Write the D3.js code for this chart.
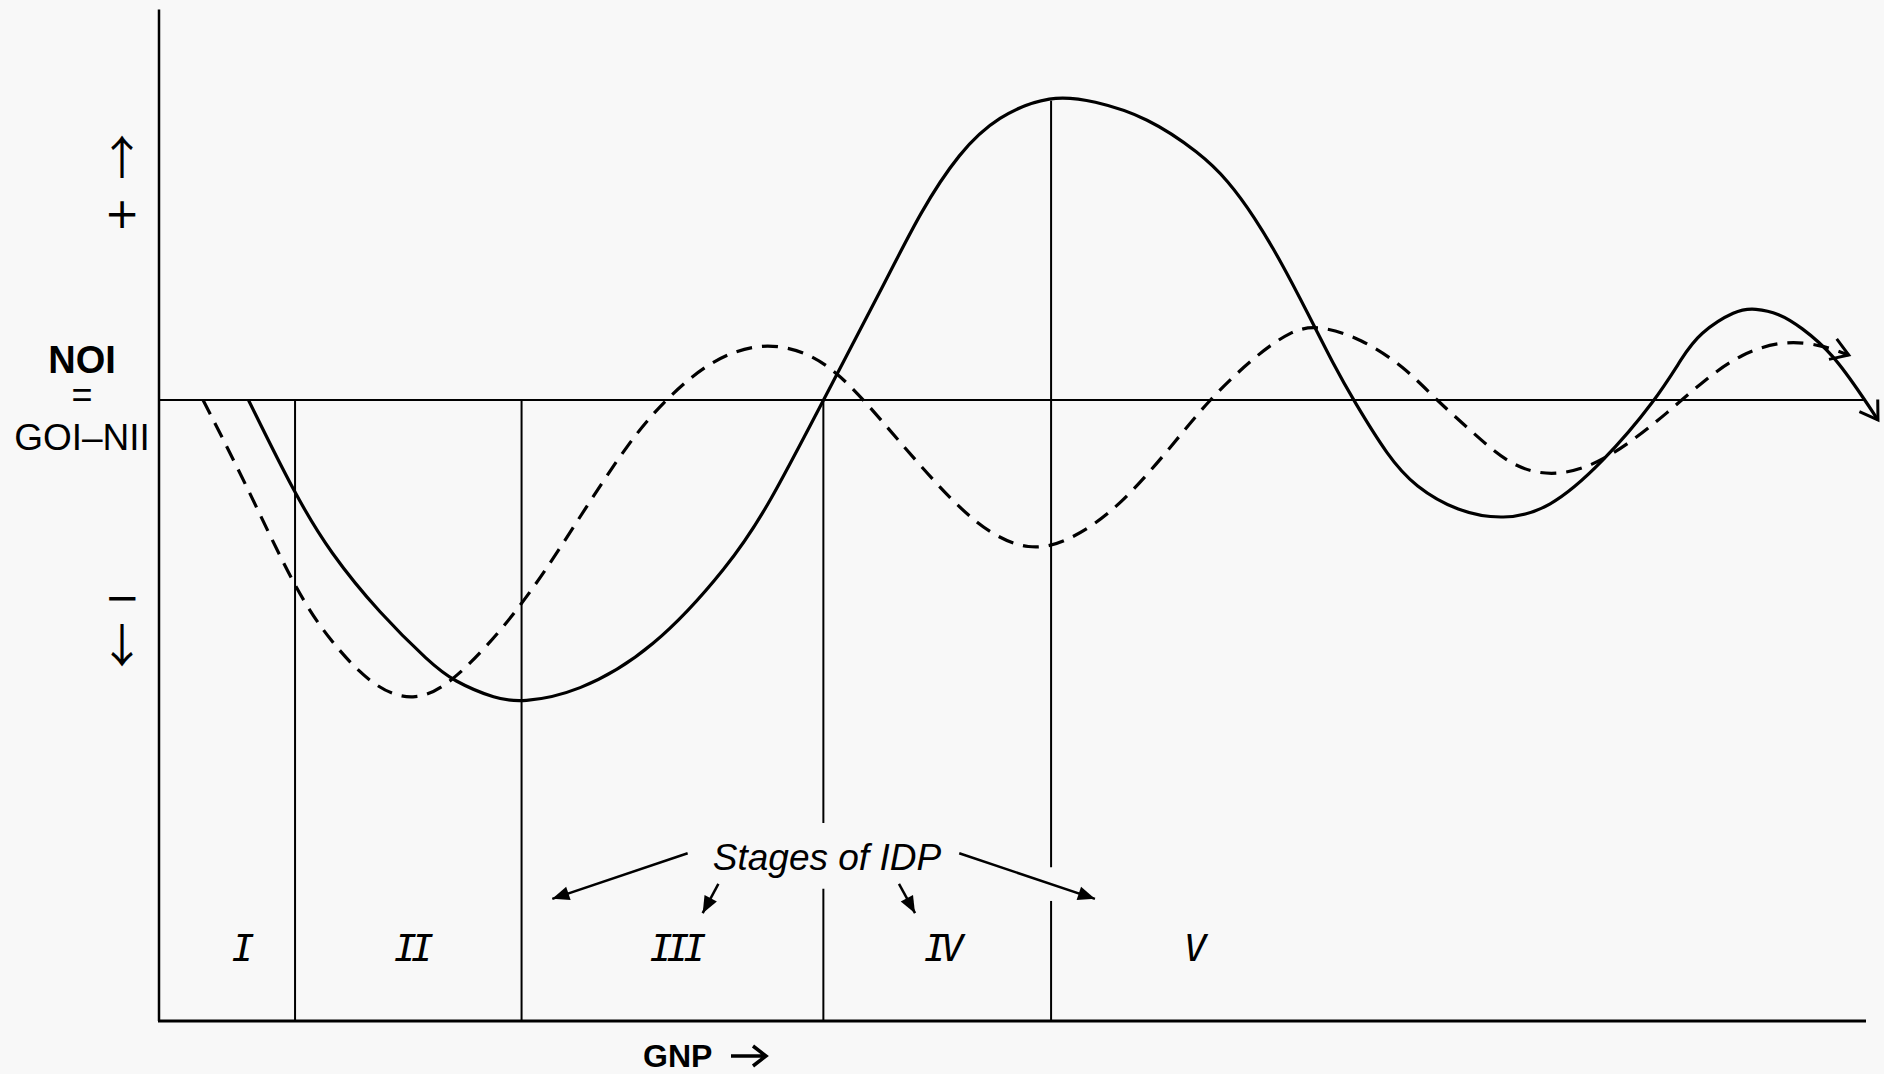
<!DOCTYPE html>
<html>
<head>
<meta charset="utf-8">
<script src="https://cdn.jsdelivr.net/npm/d3@7"></script>
<style>
  body { margin: 0; background: #f8f8f8; }
  svg { display: block; }
</style>
</head>
<body>
<script>
(function () {
    "use strict";

// curve data, GNP on x (0-100), NOI on y (peak = 1)
var gnpSolid = [5.24, 7.97, 10.02, 12.95, 15.88, 17.22, 19.78, 21.24, 24.46, 28.94, 33.43, 35.68, 38.92,
        42.40, 44.64, 46.87, 49.12, 52.26, 54.75, 57.88, 61.02, 62.60, 64.17, 65.73, 67.30, 68.87,
        69.97, 72.01, 73.58, 76.09, 78.75, 81.42, 84.56, 87.70, 89.26, 90.21, 92.40, 93.50, 94.90,
        96.17, 98.05, 99.93, 100.70],
    noiSolid = [0, -0.31, -0.50, -0.70, -0.86, -0.92, -0.98, -0.99, -0.96, -0.82, -0.54, -0.35, 0,
        0.37, 0.62, 0.81, 0.93, 1.0, 0.98, 0.927, 0.807, 0.72, 0.60, 0.453, 0.284, 0.109,
        0, -0.186, -0.284, -0.366, -0.393, -0.36, -0.207, 0, 0.142, 0.218, 0.296, 0.30, 0.284,
        0.24, 0.153, 0, -0.065];

var gnpDashed = [2.58, 5.14, 7.97, 10.02, 12.54, 14.88, 17.22, 21.25, 24.46, 27.59, 29.82, 32.31, 35.21,
        37.90, 39.72, 41.48, 44.64, 47.98, 51.02, 53.49, 56.30, 59.46, 61.49, 64.17, 66.36, 67.93,
        70.44, 72.95, 74.83, 77.02, 79.22, 81.58, 83.94, 86.13, 88.33, 90.52, 92.71, 95.22, 97.42, 98.99],
    noiDashed = [0, -0.28, -0.62, -0.79, -0.94, -0.99, -0.93, -0.68, -0.40, -0.13, 0.01, 0.13, 0.19,
        0.16, 0.09, -0.01, -0.22, -0.42, -0.50, -0.458, -0.349, -0.142, 0, 0.142, 0.229, 0.245,
        0.201, 0.109, 0, -0.109, -0.218, -0.251, -0.218, -0.142, -0.044, 0.065, 0.153, 0.196, 0.18, 0.147];

// stages of IDP
var stageNames = ["I", "II", "III", "IV", "V"],
    stageLabelX = [4.75, 14.76, 30.23, 45.81, 60.52],
    stageBounds = [7.97, 21.24, 38.92, 52.26],
    stageTops = [0, 0, 0, 0.98],
    stageGaps = [null, null, [-1.385, -1.60], [-1.53, -1.64]];

// arrows out of the "Stages of IDP" note: [x0, y0, x1, y1]
var idpArrows = [
    [30.97, -1.484, 23.04, -1.633],
    [32.77, -1.584, 31.85, -1.680],
    [43.35, -1.584, 44.29, -1.680],
    [46.88, -1.484, 54.83, -1.633]
];

var width = 1884,
    height = 1074,
    yMin = -2.033,
    yMax = 1.278,
    ink = "#000",
    sans = "'Liberation Sans', Arial, sans-serif";

var x = d3.scaleLinear().domain([0, 100]).range([159, 1866]);
var y = d3.scaleLinear().domain([yMin, yMax]).range([1021, 9.6]);

var svg = d3.select("body").append("svg")
    .attr("width", width)
    .attr("height", height);

svg.append("rect")
    .attr("width", width)
    .attr("height", height)
    .attr("fill", "#f8f8f8");

var defs = svg.append("defs");

defs.append("marker")
    .attr("id", "openHead")
    .attr("markerUnits", "userSpaceOnUse")
    .attr("viewBox", "-24 -14 28 28")
    .attr("markerWidth", 28)
    .attr("markerHeight", 28)
    .attr("refX", 0)
    .attr("refY", 0)
    .attr("orient", "auto")
  .append("path")
    .attr("d", "M-17,-11L0,0L-17,11")
    .attr("fill", "none")
    .attr("stroke", ink)
    .attr("stroke-width", 3);

defs.append("marker")
    .attr("id", "solidHead")
    .attr("markerUnits", "userSpaceOnUse")
    .attr("viewBox", "-20 -10 22 20")
    .attr("markerWidth", 22)
    .attr("markerHeight", 20)
    .attr("refX", 0)
    .attr("refY", 0)
    .attr("orient", "auto")
  .append("path")
    .attr("d", "M-17,-7L0,0L-17,7Z")
    .attr("fill", ink);

// axes
svg.append("line")
    .attr("x1", x(0)).attr("x2", x(0))
    .attr("y1", y(yMax)).attr("y2", y(yMin))
    .attr("stroke", ink)
    .attr("stroke-width", 2.5);

svg.append("line")
    .attr("x1", x(0) - 1).attr("x2", x(100))
    .attr("y1", y(yMin)).attr("y2", y(yMin))
    .attr("stroke", ink)
    .attr("stroke-width", 3);

svg.append("line")
    .attr("x1", x(0)).attr("x2", x(100))
    .attr("y1", y(0)).attr("y2", y(0))
    .attr("stroke", ink)
    .attr("stroke-width", 2);

// stage dividers
var segs = [];
stageBounds.forEach(function (b, i) {
    var g = stageGaps[i];
    if (g) {
        segs.push([b, stageTops[i], g[0]]);
        segs.push([b, g[1], yMin]);
    } else {
        segs.push([b, stageTops[i], yMin]);
    }
});

svg.selectAll(".stageLine")
    .data(segs)
  .enter().append("line")
    .attr("class", "stageLine")
    .attr("x1", function (d) { return x(d[0]); })
    .attr("x2", function (d) { return x(d[0]); })
    .attr("y1", function (d) { return y(d[1]); })
    .attr("y2", function (d) { return y(d[2]); })
    .attr("stroke", ink)
    .attr("stroke-width", 2);

// curves
var line = d3.line()
    .x(function (d) { return x(d[0]); })
    .y(function (d) { return y(d[1]); })
    .curve(d3.curveBasis);

svg.append("path")
    .attr("d", line(d3.zip(gnpDashed, noiDashed)))
    .attr("fill", "none")
    .attr("stroke", ink)
    .attr("stroke-width", 3.2)
    .attr("stroke-dasharray", "16,10")
    .attr("marker-end", "url(#openHead)");

svg.append("path")
    .attr("d", line(d3.zip(gnpSolid, noiSolid)))
    .attr("fill", "none")
    .attr("stroke", ink)
    .attr("stroke-width", 3.2)
    .attr("marker-end", "url(#openHead)");

// stage labels
svg.selectAll(".stageName")
    .data(stageNames)
  .enter().append("text")
    .attr("class", "stageName")
    .attr("x", function (d, i) { return x(stageLabelX[i]); })
    .attr("y", y(-1.836))
    .attr("text-anchor", "middle")
    .attr("font-family", "'DejaVu Sans Mono', monospace")
    .attr("font-style", "italic")
    .attr("font-size", 38)
    .attr("letter-spacing", "-6")
    .attr("fill", ink)
    .text(function (d) { return d; });

svg.append("text")
    .attr("x", x(39.13))
    .attr("y", y(-1.538))
    .attr("text-anchor", "middle")
    .attr("font-family", sans)
    .attr("font-style", "italic")
    .attr("font-size", 37)
    .attr("fill", ink)
    .text("Stages of IDP");

svg.selectAll(".idpArrow")
    .data(idpArrows)
  .enter().append("line")
    .attr("class", "idpArrow")
    .attr("x1", function (d) { return x(d[0]); })
    .attr("y1", function (d) { return y(d[1]); })
    .attr("x2", function (d) { return x(d[2]); })
    .attr("y2", function (d) { return y(d[3]); })
    .attr("stroke", ink)
    .attr("stroke-width", 2.5)
    .attr("marker-end", "url(#solidHead)");

// y label, one block of three lines
var labX = x(0) - 77;

var yLab = svg.append("text")
    .attr("text-anchor", "middle")
    .attr("font-family", sans)
    .attr("fill", ink);

yLab.append("tspan")
    .attr("x", labX).attr("y", y(0) - 27)
    .attr("font-weight", "bold")
    .attr("font-size", 38)
    .text("NOI");

yLab.append("tspan")
    .attr("x", labX).attr("y", y(0) + 7)
    .attr("font-size", 36)
    .text("=");

yLab.append("tspan")
    .attr("x", labX).attr("y", y(0) + 50)
    .attr("font-size", 37)
    .text("GOI\u2013NII");

// up / down hints
var hints = [[["\u2191", 174, true], ["+", 228, false]],
             [["\u2212", 612, false], ["\u2193", 662, true]]];

hints.forEach(function (pair) {
    var t = svg.append("text")
        .attr("text-anchor", "middle")
        .attr("fill", ink);
    pair.forEach(function (d) {
        t.append("tspan")
            .attr("x", x(0) - 37)
            .attr("y", d[1])
            .attr("font-family", d[2] ? "'Noto Sans CJK JP', sans-serif" : "'DejaVu Sans', sans-serif")
            .attr("font-size", d[2] ? 46 : 42)
            .text(d[0]);
    });
});

// x label
svg.append("text")
    .attr("x", 643)
    .attr("y", 1067)
    .attr("font-family", sans)
    .attr("font-weight", "bold")
    .attr("font-size", 32)
    .attr("fill", ink)
    .text("GNP");

svg.append("path")
    .attr("d", "M731,1056H766M753,1046L766,1056L753,1066")
    .attr("fill", "none")
    .attr("stroke", ink)
    .attr("stroke-width", 3.5);

})();
</script>
</body>
</html>
